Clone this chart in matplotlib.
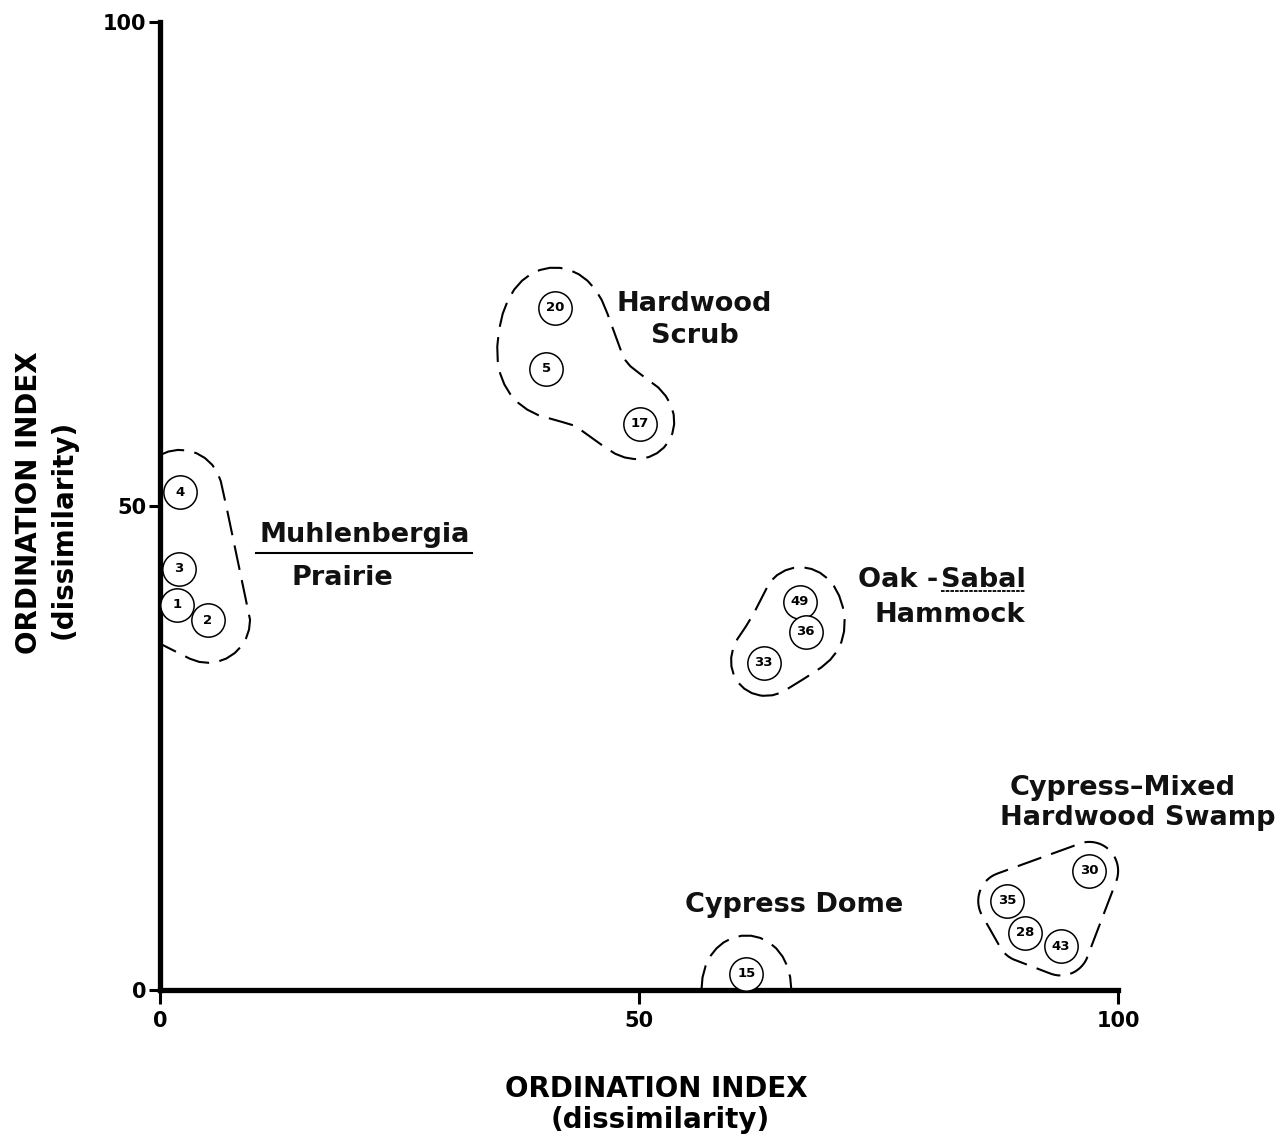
import numpy as np
import matplotlib
matplotlib.use("Agg")
import matplotlib.pyplot as plt
from matplotlib.path import Path

plt.rcParams['font.family'] = ['DejaVu Sans']

# ordination scores
site_ids = [4, 3, 1, 2, 20, 5, 17, 49, 36, 33, 15, 30, 35, 28, 43]
site_x = [2.1, 2.0, 1.8, 5.0, 41.2, 40.3, 50.1, 66.8, 67.4, 63.0, 61.2, 97.0, 88.4, 90.3, 94.0]
site_y = [51.4, 43.5, 39.8, 38.2, 70.5, 64.2, 58.5, 40.1, 37.0, 33.8, 1.7, 12.3, 9.2, 5.9, 4.5]
site_group = ['Muhlenbergia', 'Muhlenbergia', 'Muhlenbergia', 'Muhlenbergia',
              'Hardwood', 'Hardwood', 'Hardwood',
              'Oak', 'Oak', 'Oak',
              'Dome',
              'Swamp', 'Swamp', 'Swamp', 'Swamp']

# envelope style per community: (kind, radius, softness)
group_pad = {'Muhlenbergia': ('hull', 4.4, 0), 'Hardwood': ('blob', 3.0, 4.5),
             'Oak': ('blob', 3.2, 1.9), 'Dome': ('mirror', 3.6, 2.0), 'Swamp': ('hull', 3.0, 0)}

x_ticks = [0, 50, 100]
y_ticks = [0, 50, 100]


def convex_hull(pts):
    pts = sorted(set(pts))
    def cross(o, a, b):
        return (a[0] - o[0]) * (b[1] - o[1]) - (a[1] - o[1]) * (b[0] - o[0])
    lower, upper = [], []
    for p in pts:
        while len(lower) >= 2 and cross(lower[-2], lower[-1], p) <= 0:
            lower.pop()
        lower.append(p)
    for p in reversed(pts):
        while len(upper) >= 2 and cross(upper[-2], upper[-1], p) <= 0:
            upper.pop()
        upper.append(p)
    return lower[:-1] + upper[:-1]


def hull_distance(GX, GY, pts):
    hull = convex_hull(pts)
    d = np.full(GX.shape, np.inf)
    for i in range(len(hull)):
        a = np.array(hull[i])
        b = np.array(hull[(i + 1) % len(hull)])
        ab = b - a
        t = ((GX - a[0]) * ab[0] + (GY - a[1]) * ab[1]) / max(ab @ ab, 1e-9)
        t = np.clip(t, 0, 1)
        d = np.minimum(d, np.hypot(GX - a[0] - t * ab[0], GY - a[1] - t * ab[1]))
    inside = Path(hull).contains_points(np.c_[GX.ravel(), GY.ravel()]).reshape(GX.shape)
    d[inside] = 0
    return d


fig = plt.figure(figsize=(12.84, 11.44), dpi=100)
ax = fig.add_axes([160 / 1284, 154 / 1144, 1121 / 1284, 968 / 1144])
ax.set_xlim(0, 117)
ax.set_ylim(0, 100)

for s in ['top', 'right']:
    ax.spines[s].set_visible(False)
for s in ['left', 'bottom']:
    ax.spines[s].set_linewidth(3.8)
    ax.spines[s].set_capstyle('projecting')
ax.spines['bottom'].set_bounds(0, 100)
ax.spines['left'].set_bounds(0, 100)

ax.set_xticks(x_ticks)
ax.set_yticks(y_ticks)
ax.tick_params(axis='x', direction='out', length=10, width=2.2, labelsize=15, pad=5)
ax.tick_params(axis='y', direction='out', length=8, width=2.2, labelsize=15, pad=2)
for lab in ax.get_xticklabels() + ax.get_yticklabels():
    lab.set_fontweight('bold')

# dashed envelopes around each community
gx = np.linspace(0, 117, 1200)
gy = np.linspace(0, 100, 1000)
GX, GY = np.meshgrid(gx, gy)
for grp, (kind, r, soft) in group_pad.items():
    px = [x for x, g in zip(site_x, site_group) if g == grp]
    py = [y for y, g in zip(site_y, site_group) if g == grp]
    if kind == 'hull':
        field = hull_distance(GX, GY, list(zip(px, py)))
    else:
        if kind == 'mirror':
            px, py = px + px, py + [-v for v in py]
        acc = np.zeros_like(GX)
        for x0, y0 in zip(px, py):
            acc += np.exp(-np.hypot(GX - x0, GY - y0) / soft)
        field = -soft * np.log(acc)
    cs = ax.contour(GX, GY, field, levels=[r])
    paths = cs.get_paths()
    cs.remove()
    for p in paths:
        for seg in p.to_polygons(closed_only=False):
            ax.plot(seg[:, 0], seg[:, 1], color='black', lw=1.5,
                    dashes=(12, 5), solid_capstyle='round', clip_on=False)

# site circles with numbers
ax.plot(site_x, site_y, 'o', ms=24, mfc='white', mec='black', mew=1.1, zorder=5, clip_on=False)
for sid, x, y in zip(site_ids, site_x, site_y):
    ax.text(x, y, str(sid), ha='center', va='center', fontsize=9.5, fontweight='bold', zorder=6)

lbl = dict(fontsize=19.5, fontweight='bold', color='#111111', va='baseline')
ax.text(55.8, 70.15, 'Hardwood', ha='center', **lbl)
ax.text(55.8, 66.8, 'Scrub', ha='center', **lbl)
ax.text(21.4, 46.3, 'Muhlenbergia', ha='center', **lbl)
ax.text(19.0, 41.8, 'Prairie', ha='center', **lbl)
t_oak = ax.text(72.9, 41.6, 'Oak -', ha='left', **lbl)
ax.text(74.6, 38.0, 'Hammock', ha='left', **lbl)
ax.text(66.2, 8.1, 'Cypress Dome', ha='center', **lbl)
ax.text(100.5, 20.1, 'Cypress\u2013Mixed', ha='center', **lbl)
ax.text(102.1, 17.0, 'Hardwood Swamp', ha='center', **lbl)

# underlines (italic names in the original)
ax.plot([10.0, 32.6], [45.1, 45.1], color='black', lw=1.5)
fig.canvas.draw()
inv = ax.transData.inverted()
bb = t_oak.get_window_extent()
sab_x = inv.transform([[bb.x1 + 2, bb.y0]])[0][0]
t_sab = ax.text(sab_x, 41.6, 'Sabal', ha='left', **lbl)
fig.canvas.draw()
bb = t_sab.get_window_extent()
(x0, _), (x1, _) = inv.transform([[bb.x0, bb.y0], [bb.x1, bb.y1]])
ax.plot([x0, x1], [41.2, 41.2], color='black', lw=1.3, dashes=(2, 0.6))

# axis titles
fig.text(656 / 1284, 1 - 1097 / 1144, 'ORDINATION INDEX', ha='center', va='baseline',
         fontsize=20, fontweight='bold')
fig.text(660 / 1284, 1 - 1128 / 1144, '(dissimilarity)', ha='center', va='baseline',
         fontsize=20, fontweight='bold')
fig.text(29 / 1284, 1 - 503 / 1144, 'ORDINATION INDEX', ha='center', va='center',
         rotation=90, fontsize=20, fontweight='bold')
fig.text(64 / 1284, 1 - 529 / 1144, '(dissimilarity)', ha='center', va='center',
         rotation=90, fontsize=20, fontweight='bold')

fig.savefig('out.png', dpi=100, facecolor='white')
